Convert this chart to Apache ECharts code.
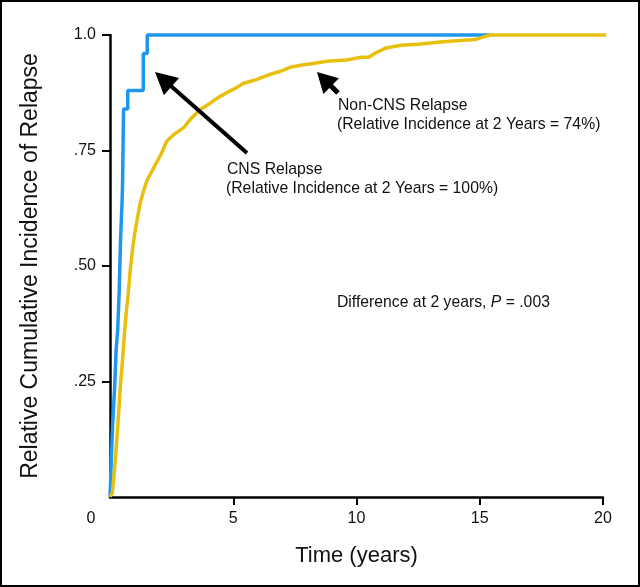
<!DOCTYPE html>
<html>
<head>
<meta charset="utf-8">
<script src="https://cdn.jsdelivr.net/npm/echarts@6/dist/echarts.min.js"></script>
<style>
html,body{margin:0;padding:0;background:#fff;}
#chart{width:640px;height:587px;}
</style>
</head>
<body>
<div id="chart"></div>
<script>
// ---- data ----
const xTickValues = [0, 5, 10, 15, 20];
const xTickLabels = ['0', '5', '10', '15', '20'];
const yTickValues = [0, 0.25, 0.5, 0.75, 1];
const yTickLabels = ['', '.25', '.50', '.75', '1.0'];

// CNS relapse (blue), step function
const cnsTime = [0, 0.03, 0.05, 0.08, 0.11, 0.15, 0.19, 0.22, 0.25, 0.31, 0.34, 0.37, 0.39, 0.41, 0.43, 0.46, 0.49, 0.51, 0.52, 0.53, 0.54, 0.55, 0.72, 1.35, 1.51, 15.4];
const cnsIncidence = [0, 0.04, 0.08, 0.12, 0.16, 0.20, 0.24, 0.28, 0.32, 0.36, 0.40, 0.44, 0.48, 0.52, 0.56, 0.60, 0.64, 0.68, 0.72, 0.76, 0.80, 0.84, 0.88, 0.96, 1.0, 1.0];

// Non-CNS relapse (yellow), many small events read as a jagged curve
const nonCnsTime = [0, 0.1, 0.2, 0.27, 0.35, 0.42, 0.5, 0.58, 0.66, 0.74, 0.82, 0.9, 1.0, 1.1, 1.22, 1.35, 1.5, 1.7, 1.9, 2.1, 2.3, 2.6, 3.0, 3.3, 3.65, 4.0, 4.4, 4.8, 5.1, 5.4, 5.9, 6.5, 6.9, 7.3, 7.8, 8.3, 8.8, 9.6, 10.2, 10.5, 10.8, 11.2, 11.8, 12.5, 13.4, 14.2, 14.8, 15.15, 15.42, 20.7];
const nonCnsIncidence = [0, 0.01, 0.07, 0.12, 0.18, 0.24, 0.29, 0.35, 0.40, 0.44, 0.49, 0.53, 0.57, 0.60, 0.635, 0.66, 0.685, 0.705, 0.725, 0.745, 0.77, 0.785, 0.80, 0.82, 0.838, 0.85, 0.865, 0.877, 0.885, 0.895, 0.903, 0.915, 0.921, 0.93, 0.935, 0.939, 0.943, 0.946, 0.952, 0.952, 0.962, 0.972, 0.978, 0.98, 0.985, 0.988, 0.99, 0.996, 1.0, 1.0];

const FONT = 'Liberation Sans, Arial, sans-serif';
const chart = echarts.init(document.getElementById('chart'), null, {renderer: 'canvas'});

function zip(a, b) { return a.map((v, i) => [v, b[i]]); }

function arrowPoints(tail, tip, headLen, headW, shaftW) {
  const dx = tip[0] - tail[0], dy = tip[1] - tail[1];
  const L = Math.sqrt(dx * dx + dy * dy);
  const ux = dx / L, uy = dy / L, nx = -uy, ny = ux;
  const bx = tip[0] - ux * headLen, by = tip[1] - uy * headLen;
  return [
    [tail[0] + nx * shaftW / 2, tail[1] + ny * shaftW / 2],
    [bx + nx * shaftW / 2, by + ny * shaftW / 2],
    [bx + nx * headW / 2, by + ny * headW / 2],
    tip,
    [bx - nx * headW / 2, by - ny * headW / 2],
    [bx - nx * shaftW / 2, by - ny * shaftW / 2],
    [tail[0] - nx * shaftW / 2, tail[1] - ny * shaftW / 2]
  ];
}

const annoFont = '15.75px ' + FONT;

const option = {
  animation: false,
  backgroundColor: '#fff',
  grid: {left: 110, right: 37, top: 35, bottom: 90, containLabel: false},
  xAxis: {
    type: 'value', min: 0, max: 20, interval: 5,
    name: 'Time (years)', nameLocation: 'middle', nameGap: 48,
    nameTextStyle: {fontFamily: FONT, fontSize: 22, color: '#111'},
    axisLine: {show: true, lineStyle: {color: '#000', width: 2.5}},
    axisTick: {show: true, length: 8, lineStyle: {color: '#000', width: 2}, customValues: [5, 10, 15, 20]},
    axisLabel: {
      margin: 14, fontFamily: FONT, fontSize: 16, color: '#111',
      formatter: function (v) {
        const i = xTickValues.indexOf(v);
        const s = i >= 0 ? xTickLabels[i] : '';
        return v === 0 ? '{z|' + s + '}' : s;
      },
      rich: {z: {fontFamily: FONT, fontSize: 16, color: '#111', padding: [0, 38, 0, 0]}}
    },
    splitLine: {show: false}
  },
  yAxis: {
    type: 'value', min: 0, max: 1, interval: 0.25,
    name: 'Relative Cumulative Incidence of Relapse', nameLocation: 'middle', nameGap: 68,
    nameTextStyle: {fontFamily: FONT, fontSize: 23, color: '#111'},
    axisLine: {show: true, lineStyle: {color: '#000', width: 2.5}},
    axisTick: {show: true, length: 8, lineStyle: {color: '#000', width: 2}, customValues: [0.25, 0.5, 0.75, 1]},
    axisLabel: {
      margin: 14, fontFamily: FONT, fontSize: 16, color: '#111',
      formatter: function (v) {
        const i = yTickValues.findIndex(t => Math.abs(t - v) < 1e-9);
        return i >= 0 ? yTickLabels[i] : '';
      }
    },
    splitLine: {show: false}
  },
  series: [
    {
      name: 'CNS Relapse', type: 'line', step: 'end', symbol: 'none', clip: false,
      data: zip(cnsTime, cnsIncidence),
      lineStyle: {color: '#1f97ee', width: 3.5}, z: 3
    },
    {
      name: 'Non-CNS Relapse', type: 'line', symbol: 'none', clip: false,
      data: zip(nonCnsTime, nonCnsIncidence),
      lineStyle: {color: '#e8bf0c', width: 3.5}, z: 4
    }
  ],
  graphic: [
    {type: 'rect', shape: {x: 1, y: 1, width: 638, height: 585}, style: {fill: 'none', stroke: '#000', lineWidth: 2}, silent: true},
    {type: 'text', x: 338, y: 106, style: {text: 'Non-CNS Relapse', font: annoFont, fill: '#111', verticalAlign: 'middle'}},
    {type: 'text', x: 337, y: 125, style: {text: '(Relative Incidence at 2 Years = 74%)', font: annoFont, fill: '#111', verticalAlign: 'middle'}},
    {type: 'text', x: 227, y: 170, style: {text: 'CNS Relapse', font: annoFont, fill: '#111', verticalAlign: 'middle'}},
    {type: 'text', x: 226, y: 189, style: {text: '(Relative Incidence at 2 Years = 100%)', font: annoFont, fill: '#111', verticalAlign: 'middle'}},
    {type: 'text', x: 337, y: 303, style: {rich: {n: {font: annoFont, fill: '#111'}, i: {font: 'italic ' + annoFont, fill: '#111'}}, text: '{n|Difference at 2 years, }{i|P}{n| = .003}', verticalAlign: 'middle'}},
    {type: 'polygon', shape: {points: arrowPoints([247, 153], [155, 72], 22, 23, 4)}, style: {fill: '#000'}, z: 10},
    {type: 'polygon', shape: {points: arrowPoints([338, 93], [317, 72], 20, 22, 5)}, style: {fill: '#000'}, z: 10}
  ]
};
chart.setOption(option);
</script>
</body>
</html>
